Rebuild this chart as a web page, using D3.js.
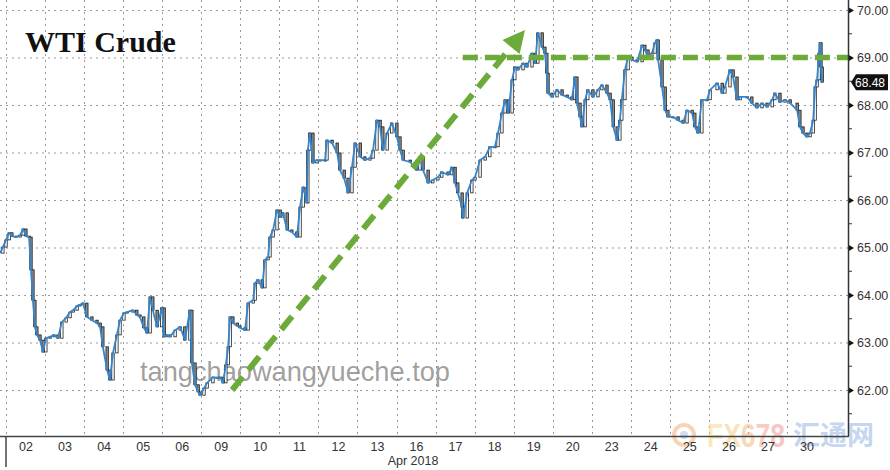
<!DOCTYPE html>
<html>
<head>
<meta charset="utf-8">
<script src="https://cdn.jsdelivr.net/npm/d3@7"></script>
<style>
  html, body { margin: 0; padding: 0; background: #fff; }
  svg { display: block; }
</style>
</head>
<body>
<svg id="chart" width="890" height="470"></svg>
<script>
// ---------- DATA ----------
const dayLabels = ["02","03","04","05","06","09","10","11","12","13","16","17","18","19","20","23","24","25","26","27","30"];
const monthLabel = "Apr 2018";
const title = "WTI Crude";

// time in trading-day units (0 = start of Apr 02), price in USD
const times = [-0.15,-0.08,0.00,0.08,0.15,0.26,0.36,0.44,0.51,0.59,0.64,0.69,0.74,0.79,0.87,0.95,
 1.02,1.13,1.23,1.33,1.43,1.54,1.64,1.72,1.82,1.89,1.97,2.07,2.20,2.33,2.41,2.48,2.59,2.66,2.74,2.84,2.92,
 3.02,3.10,3.25,3.35,3.43,3.53,3.61,3.69,3.76,3.87,3.99,4.05,4.12,4.20,4.33,4.46,4.58,4.71,4.76,4.84,4.92,4.97,
 5.07,5.15,5.30,5.40,5.48,5.56,5.63,5.69,5.74,5.81,5.92,5.99,6.12,6.20,6.33,6.38,6.45,6.56,6.63,6.71,6.76,6.84,6.94,
 7.02,7.09,7.20,7.32,7.45,7.53,7.61,7.71,7.73,7.78,7.86,7.96,8.04,8.17,8.22,8.35,8.48,8.55,8.66,8.76,8.86,8.94,
 9.07,9.19,9.32,9.40,9.50,9.58,9.65,9.76,9.88,10.01,10.09,10.17,10.35,10.52,10.60,10.68,10.81,10.93,
 11.06,11.16,11.32,11.42,11.50,11.57,11.68,11.70,11.81,11.93,12.01,12.14,12.27,12.39,12.52,12.60,12.70,12.78,12.86,12.96,
 13.03,13.11,13.24,13.34,13.47,13.55,13.62,13.73,13.80,13.85,13.88,13.98,14.11,14.24,14.37,14.49,14.57,14.62,14.70,14.75,14.83,14.90,
 15.03,15.16,15.26,15.39,15.47,15.55,15.65,15.72,15.77,15.85,15.93,16.03,16.16,16.29,16.36,16.44,16.54,16.62,16.67,16.70,16.80,16.88,16.95,
 17.08,17.21,17.34,17.44,17.57,17.64,17.72,17.82,17.95,18.03,18.21,18.34,18.41,18.54,18.62,18.72,18.80,18.98,
 19.10,19.23,19.36,19.49,19.62,19.69,19.82,19.95,20.08,20.26,20.33,20.41,20.51,20.59,20.67,20.72,20.77,20.82,20.85,20.87,20.90];
const prices = [64.88,65.01,65.16,65.31,65.24,65.22,65.26,65.39,65.24,65.22,64.53,63.89,63.33,63.16,63.05,62.80,
 63.09,63.12,63.16,63.09,63.43,63.52,63.64,63.68,63.77,63.79,63.83,63.54,63.47,63.41,63.33,62.91,62.42,62.21,62.78,63.16,63.47,
 63.62,63.64,63.68,63.58,63.54,63.31,63.20,63.96,63.68,63.33,63.73,63.12,63.16,63.12,63.26,63.33,63.05,63.68,62.57,62.11,61.96,61.89,
 62.04,62.15,62.27,62.25,62.27,62.15,62.53,62.91,63.54,63.41,63.35,63.31,63.26,63.83,63.89,64.25,64.32,64.15,64.74,64.80,65.22,65.37,65.79,
 65.64,65.73,65.37,65.33,65.22,65.85,66.27,65.94,67.05,67.41,66.78,66.84,66.84,66.84,67.26,67.20,66.99,66.63,66.46,66.15,66.69,67.20,
 66.91,66.84,66.88,67.05,67.68,67.54,67.05,67.41,67.62,67.33,67.05,66.84,66.80,66.63,66.91,66.63,66.36,66.42,
 66.48,66.59,66.53,66.69,66.36,66.15,65.85,65.62,66.15,66.42,66.48,66.84,66.91,67.12,67.12,67.41,67.83,68.11,67.83,68.53,
 68.80,68.74,68.88,68.80,69.09,68.88,69.52,69.22,69.09,68.67,68.25,68.17,68.32,68.21,68.17,68.11,68.59,68.04,67.75,67.54,68.11,68.32,
 68.17,68.32,68.42,68.25,68.11,67.54,67.26,67.68,68.11,68.74,69.01,68.95,68.91,69.26,69.16,69.01,69.09,69.31,69.37,68.95,68.38,67.89,67.75,
 67.75,67.68,67.62,67.89,67.83,67.54,67.41,68.11,68.11,68.32,68.46,68.25,68.38,68.74,68.59,68.11,68.17,68.17,
 68.04,67.94,68.04,67.96,68.11,68.25,68.06,68.11,68.04,67.89,67.54,67.41,67.33,67.41,67.68,68.38,68.53,69.09,69.31,68.80,68.48];

const yTicks = [62,63,64,65,66,67,68,69,70];
const yMinorTicks = [61.5,62.5,63.5,64.5,65.5,66.5,67.5,68.5,69.5];
const lastPrice = 68.48;

// annotations (day units, price)
const trendFrom = [5.79, 62.0];
const trendTo = [13.29, 69.58];
const resistanceLevel = 69.0;
const resistanceFrom = 11.70;

const watermark = "tangchaowangyueche.top";

// ---------- LAYOUT ----------
const svg = d3.select("#chart");
const plotLeft = 0, plotRight = 848, plotTop = 0, plotBottom = 436;
const x = d3.scaleLinear().domain([0, 20]).range([6, 787]);
const y = d3.scaleLinear().domain([62, 70]).range([390, 10]);

const green = "#6cab3a";
const blue = "#3585cc";

// clip
svg.append("defs").append("clipPath").attr("id","plotclip")
  .append("rect").attr("x",plotLeft).attr("y",plotTop)
  .attr("width",plotRight-plotLeft).attr("height",plotBottom-plotTop);

// gridlines
const grid = svg.append("g");
grid.selectAll("line.h").data(yTicks).join("line")
  .attr("x1", plotLeft).attr("x2", plotRight)
  .attr("y1", d => y(d) + 0.5).attr("y2", d => y(d) + 0.5)
  .attr("stroke", "#9a9a9a").attr("stroke-width", 1).attr("stroke-dasharray", "2,4");
grid.selectAll("line.v").data(d3.range(0, 21)).join("line")
  .attr("y1", plotTop).attr("y2", plotBottom)
  .attr("x1", d => Math.round(x(d)) + 0.5).attr("x2", d => Math.round(x(d)) + 0.5)
  .attr("stroke", "#9a9a9a").attr("stroke-width", 1).attr("stroke-dasharray", "2,4");

// watermark text
svg.append("text").attr("x", 140).attr("y", 381)
  .attr("font-family", "Liberation Sans, Arial, sans-serif").attr("font-size", 28)
  .attr("fill", "#8f8f8f").attr("fill-opacity", 0.85)
  .attr("textLength", 310).attr("lengthAdjust", "spacingAndGlyphs")
  .text(watermark);

// FX678 logo watermark
const logo = svg.append("g").attr("opacity", 0.45);
logo.append("circle").attr("cx", 684).attr("cy", 435).attr("r", 10)
  .attr("fill", "none").attr("stroke", "#f0a060").attr("stroke-width", 4);
logo.append("circle").attr("cx", 684).attr("cy", 435).attr("r", 4)
  .attr("fill", "#9ab8dd");
const fx = logo.append("text").attr("x", 707).attr("y", 447)
  .attr("font-family", "Liberation Sans, Arial, sans-serif").attr("font-weight", "bold")
  .attr("font-size", 33).attr("textLength", 78).attr("lengthAdjust", "spacingAndGlyphs");
[["F","#f6cf70"],["X","#f5bf66"],["6","#f3aa66"],["7","#f09080"],["8","#ee8282"]].forEach(([c,col]) =>
  fx.append("tspan").attr("fill", col).text(c));
logo.append("text").attr("x", 793).attr("y", 445)
  .attr("font-family", "Noto Sans CJK SC, sans-serif").attr("font-weight", "bold")
  .attr("font-size", 27).attr("fill", "#7fa6dc").text("汇通网");

// series
const plot = svg.append("g").attr("clip-path", "url(#plotclip)");
const pts = times.map((t, i) => ({t, p: prices[i]}));

// candle bodies (open = previous point, close = current point)
const candles = pts.slice(1).map((d, i) => ({t: d.t, o: pts[i].p, c: d.p}));
plot.selectAll("rect.c").data(candles).join("rect")
  .attr("x", d => x(d.t) - 1.2)
  .attr("width", 2.4)
  .attr("y", d => y(Math.max(d.o, d.c)))
  .attr("height", d => Math.max(1, Math.abs(y(d.o) - y(d.c))))
  .attr("fill", d => d.c >= d.o ? "#ffffff" : "#8c8c8c")
  .attr("stroke", "#111").attr("stroke-width", 0.75);

plot.append("path").datum(pts)
  .attr("d", d3.line().x(d => x(d.t)).y(d => y(d.p)))
  .attr("fill", "none").attr("stroke", blue).attr("stroke-width", 1.8)
  .attr("stroke-linejoin", "round");

// green resistance line
svg.append("line")
  .attr("x1", x(resistanceFrom)).attr("x2", plotRight)
  .attr("y1", y(resistanceLevel)).attr("y2", y(resistanceLevel))
  .attr("stroke", green).attr("stroke-width", 5.5).attr("stroke-dasharray", "15,7");

// green trend arrow
const ax0 = x(trendFrom[0]), ay0 = y(trendFrom[1]);
const ax1 = x(trendTo[0]), ay1 = y(trendTo[1]);
const ang = Math.atan2(ay1 - ay0, ax1 - ax0);
const headLen = 22, headHalf = 11;
const bx = ax1 - headLen * Math.cos(ang), by = ay1 - headLen * Math.sin(ang);
svg.append("line")
  .attr("x1", ax0).attr("y1", ay0).attr("x2", bx).attr("y2", by)
  .attr("stroke", green).attr("stroke-width", 6).attr("stroke-dasharray", "17,9");
svg.append("path")
  .attr("d", `M${ax1},${ay1} L${bx + headHalf*Math.sin(ang)},${by - headHalf*Math.cos(ang)} L${bx - headHalf*Math.sin(ang)},${by + headHalf*Math.cos(ang)} Z`)
  .attr("fill", green);

// title
svg.append("text").attr("x", 25).attr("y", 52)
  .attr("font-family", "Liberation Serif, Times New Roman, serif").attr("font-weight", "bold")
  .attr("font-size", 30).attr("fill", "#111").text(title);

// right axis
const yAxis = d3.axisRight(y).tickValues(yTicks).tickFormat(d3.format(".2f")).tickSize(0).tickPadding(9);
const yg = svg.append("g").attr("transform", `translate(${plotRight},0)`).call(yAxis);
yg.select(".domain").remove();
yg.selectAll("text").attr("font-family", "Liberation Sans, Arial, sans-serif")
  .attr("font-size", 12.5).attr("fill", "#333");
yg.selectAll(".tick").append("path").attr("d", "M0,-3.5 L6,0 L0,3.5 Z").attr("fill", "#111");
svg.append("g").selectAll("line").data(yMinorTicks.filter(v => y(v) > 0 && y(v) < plotBottom)).join("line")
  .attr("x1", plotRight).attr("x2", plotRight + 4)
  .attr("y1", d => y(d)).attr("y2", d => y(d)).attr("stroke", "#333");
svg.append("line").attr("x1", plotRight + 0.5).attr("x2", plotRight + 0.5)
  .attr("y1", plotTop).attr("y2", plotBottom)
  .attr("stroke", "#333").attr("stroke-width", 1.5);

// last price tag
const ly = y(lastPrice);
svg.append("path")
  .attr("d", `M${plotRight + 3},${ly} L${plotRight + 8},${ly - 8} L${888},${ly - 8} L${888},${ly + 8} L${plotRight + 8},${ly + 8} Z`)
  .attr("fill", "#111");
svg.append("text").attr("x", 870).attr("y", ly + 4.5).attr("text-anchor", "middle")
  .attr("font-family", "Liberation Sans, Arial, sans-serif").attr("font-size", 12)
  .attr("fill", "#fff").text(lastPrice.toFixed(2));

// bottom axis
const xAxis = d3.axisBottom(x).tickValues(dayLabels.map((_, i) => i + 0.5))
  .tickFormat((d, i) => dayLabels[i]).tickSize(0).tickPadding(6);
const xg = svg.append("g").attr("transform", `translate(0,${plotBottom})`).call(xAxis);
xg.select(".domain").remove();
xg.selectAll("text").attr("font-family", "Liberation Sans, Arial, sans-serif")
  .attr("font-size", 12.5).attr("fill", "#333");
svg.append("line").attr("x1", plotLeft).attr("x2", plotRight + 1)
  .attr("y1", plotBottom + 0.5).attr("y2", plotBottom + 0.5)
  .attr("stroke", "#444").attr("stroke-width", 1.5);
svg.append("line").attr("x1", x(0)).attr("x2", x(0))
  .attr("y1", plotBottom).attr("y2", 467)
  .attr("stroke", "#444").attr("stroke-width", 1.5);
svg.append("text").attr("x", x(10.5) - 3).attr("y", 465).attr("text-anchor", "middle")
  .attr("font-family", "Liberation Sans, Arial, sans-serif").attr("font-size", 12.5)
  .attr("fill", "#333").text(monthLabel);
</script>
</body>
</html>
